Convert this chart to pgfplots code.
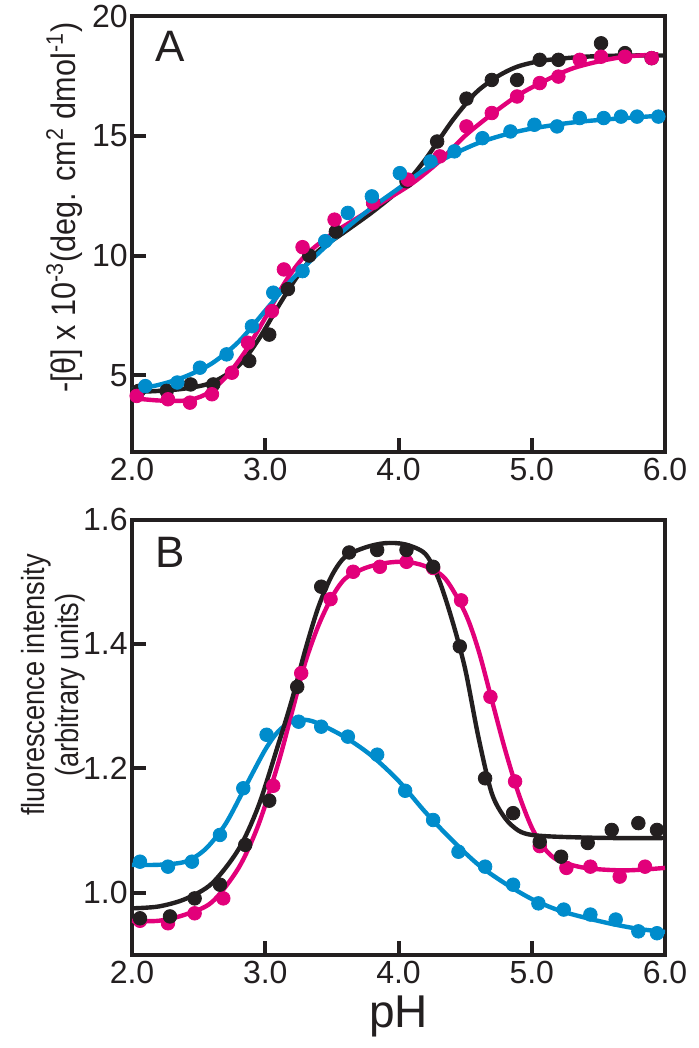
\documentclass[border=0pt]{standalone}
\usepackage{fontspec}
\setmainfont{Liberation Sans}
\usepackage{pgfplots}
\pgfplotsset{compat=1.18}
\definecolor{cblack}{RGB}{35,31,32}
\definecolor{cpink}{RGB}{226,0,122}
\definecolor{cblue}{RGB}{0,140,204}
\pgfplotsset{
 panel/.style={
  scale only axis, width=266.5pt,
  xmin=2, xmax=6, xtick={2,3,4,5,6}, xticklabels={2.0,3.0,4.0,5.0,6.0},
  axis line style={line width=2pt, color=cblack},
  every tick/.style={line width=2pt, color=cblack},
  major tick length=7pt,
  tick align=inside,
  xtick pos=left, ytick pos=left,
  tick label style={font=\fontsize{16}{16}\selectfont, color=cblack},
  xticklabel style={inner sep=1pt, yshift=-2pt},
  yticklabel style={inner sep=1pt, xshift=-1pt},
  every axis x label/.style={at={(axis description cs:0.5,-0.14)}, anchor=center,
     font=\fontsize{23}{23}\selectfont, color=cblack},
 },
 fit/.style={smooth, no markers, line width=2.2pt},
 dots/.style={only marks, mark=*, mark size=3.4pt},
}
\begin{document}
\begin{tikzpicture}
% ---------------- Panel A ----------------
\begin{axis}[panel, at={(0pt,251.5pt)}, anchor=south west, height=218pt,
  ymin=1.8, ymax=20, ytick={5,10,15,20}, yticklabels={5,10,15,20},
  every axis y label/.style={at={(axis description cs:-0.127,0.56)}, rotate=90, anchor=center,
     font=\fontsize{17}{18}\selectfont, color=cblack},
  ylabel={\scalebox{0.9}[1]{-[θ] x 10\textsuperscript{-3}(deg. cm\textsuperscript{2} dmol\textsuperscript{-1})}}]
% black
\addplot[fit, cblack] coordinates {(2.0,4.3)(2.2,4.35)(2.4,4.45)(2.6,4.7)(2.8,5.4)(2.95,6.5)(3.1,7.9)(3.25,9.2)(3.4,10.2)(3.6,11.0)(3.8,11.8)(4.0,12.7)(4.1,13.3)(4.2,14.0)(4.3,14.8)(4.4,15.6)(4.5,16.3)(4.6,16.9)(4.75,17.5)(4.9,17.9)(5.1,18.15)(5.4,18.3)(5.7,18.35)(6.0,18.35)};
\addplot[dots, cblack] coordinates {(2.05,4.35)(2.26,4.35)(2.44,4.62)(2.61,4.62)(2.88,5.6)(3.03,6.7)(3.17,8.6)(3.33,10.0)(3.53,11.0)(3.81,12.2)(4.06,13.1)(4.29,14.76)(4.51,16.55)(4.70,17.33)(4.89,17.33)(5.06,18.17)(5.20,18.17)(5.52,18.86)(5.70,18.45)(5.90,18.24)};
% pink
\addplot[fit, cpink] coordinates {(2.0,4.05)(2.2,3.95)(2.4,3.95)(2.55,4.2)(2.7,4.9)(2.85,6.0)(3.0,7.4)(3.15,8.9)(3.3,10.0)(3.5,10.9)(3.7,11.6)(3.9,12.3)(4.1,13.0)(4.3,13.9)(4.5,15.0)(4.7,15.9)(4.9,16.7)(5.1,17.3)(5.3,17.8)(5.5,18.1)(5.7,18.3)(5.95,18.4)};
\addplot[dots, cpink] coordinates {(2.035,4.14)(2.27,4.0)(2.435,3.86)(2.60,4.21)(2.75,5.11)(2.87,6.36)(3.05,7.68)(3.14,9.42)(3.28,10.35)(3.52,11.5)(3.81,12.2)(4.07,13.17)(4.31,14.14)(4.51,15.39)(4.70,15.95)(4.89,16.64)(5.06,17.2)(5.20,17.47)(5.36,18.17)(5.52,18.3)(5.70,18.3)(5.90,18.24)};
% blue
\addplot[fit, cblue] coordinates {(2.0,4.4)(2.2,4.6)(2.4,4.95)(2.6,5.5)(2.8,6.4)(3.0,7.7)(3.2,9.0)(3.4,10.1)(3.6,11.1)(3.8,12.0)(4.0,12.8)(4.2,13.6)(4.4,14.2)(4.6,14.7)(4.8,15.05)(5.0,15.3)(5.3,15.55)(5.6,15.7)(6.0,15.85)};
\addplot[dots, cblue] coordinates {(2.10,4.55)(2.34,4.70)(2.51,5.32)(2.71,5.875)(2.90,7.05)(3.06,8.45)(3.28,9.35)(3.45,10.6)(3.62,11.78)(3.80,12.47)(4.01,13.44)(4.24,13.93)(4.42,14.35)(4.63,14.9)(4.84,15.18)(5.02,15.46)(5.19,15.39)(5.36,15.74)(5.54,15.74)(5.67,15.8)(5.79,15.8)(5.95,15.8)};
\node[font=\fontsize{22}{22}\selectfont, color=cblack] at (rel axis cs:0.071,0.931) {A};
\end{axis}
% ---------------- Panel B ----------------
\begin{axis}[panel, at={(0pt,0pt)}, anchor=south west, height=217.75pt,
  ymin=0.9, ymax=1.6, ytick={1.0,1.2,1.4,1.6}, yticklabels={1.0,1.2,1.4,1.6},
  every axis y label/.style={at={(axis description cs:-0.148,0.62)}, rotate=90, anchor=center, align=center,
     font=\fontsize{16}{17}\selectfont, color=cblack},
  ylabel={\scalebox{0.85}[1]{fluorescence intensity}\\\scalebox{0.85}[1]{(arbitrary units)}},
  xlabel={pH}]
% blue
\addplot[fit, cblue] coordinates {(2.0,1.045)(2.2,1.045)(2.4,1.05)(2.55,1.07)(2.7,1.11)(2.85,1.17)(3.0,1.23)(3.1,1.26)(3.2,1.275)(3.3,1.278)(3.4,1.272)(3.6,1.25)(3.8,1.22)(4.0,1.18)(4.2,1.13)(4.4,1.085)(4.6,1.045)(4.8,1.015)(5.0,0.99)(5.2,0.972)(5.4,0.96)(5.6,0.95)(5.8,0.942)(6.0,0.937)};
\addplot[dots, cblue] coordinates {(2.06,1.050)(2.27,1.042)(2.45,1.050)(2.66,1.093)(2.835,1.168)(3.01,1.254)(3.25,1.275)(3.42,1.267)(3.62,1.251)(3.84,1.222)(4.05,1.164)(4.26,1.117)(4.45,1.066)(4.65,1.042)(4.86,1.013)(5.05,0.983)(5.24,0.973)(5.44,0.965)(5.63,0.957)(5.80,0.938)(5.94,0.935)};
% pink
\addplot[fit, cpink] coordinates {(2.0,0.955)(2.2,0.955)(2.4,0.965)(2.6,0.985)(2.8,1.04)(2.95,1.11)(3.1,1.21)(3.2,1.29)(3.3,1.37)(3.4,1.43)(3.5,1.475)(3.6,1.505)(3.75,1.522)(3.9,1.53)(4.05,1.532)(4.2,1.525)(4.35,1.505)(4.5,1.45)(4.6,1.39)(4.7,1.31)(4.8,1.23)(4.9,1.16)(5.0,1.105)(5.1,1.07)(5.2,1.052)(5.4,1.04)(5.7,1.036)(6.0,1.04)};
\addplot[dots, cpink] coordinates {(2.06,0.955)(2.27,0.951)(2.47,0.967)(2.685,0.991)(3.06,1.172)(3.27,1.353)(3.49,1.472)(3.66,1.516)(3.86,1.524)(4.06,1.532)(4.26,1.522)(4.47,1.470)(4.69,1.315)(4.875,1.179)(5.06,1.075)(5.26,1.040)(5.44,1.042)(5.66,1.026)(5.85,1.042)};
% black
\addplot[fit, cblack] coordinates {(2.0,0.975)(2.2,0.978)(2.4,0.99)(2.6,1.015)(2.8,1.07)(2.95,1.14)(3.1,1.24)(3.2,1.31)(3.3,1.39)(3.4,1.46)(3.5,1.51)(3.6,1.54)(3.75,1.555)(3.9,1.562)(4.05,1.56)(4.2,1.545)(4.3,1.505)(4.4,1.44)(4.5,1.36)(4.6,1.25)(4.7,1.16)(4.8,1.12)(4.9,1.10)(5.0,1.093)(5.2,1.09)(5.6,1.088)(6.0,1.088)};
\addplot[dots, cblack] coordinates {(2.06,0.959)(2.285,0.962)(2.47,0.991)(2.66,1.013)(2.85,1.077)(3.03,1.148)(3.24,1.331)(3.42,1.492)(3.63,1.547)(3.84,1.551)(4.06,1.551)(4.26,1.524)(4.46,1.396)(4.65,1.184)(4.86,1.128)(5.06,1.082)(5.22,1.058)(5.42,1.080)(5.60,1.101)(5.80,1.112)(5.94,1.101)};
\node[font=\fontsize{22}{22}\selectfont, color=cblack] at (rel axis cs:0.071,0.925) {B};
\end{axis}
\pgfresetboundingbox
\path[use as bounding box] (-66pt,-46.5pt) rectangle (283.5pt,477.5pt);
\end{tikzpicture}
\end{document}
